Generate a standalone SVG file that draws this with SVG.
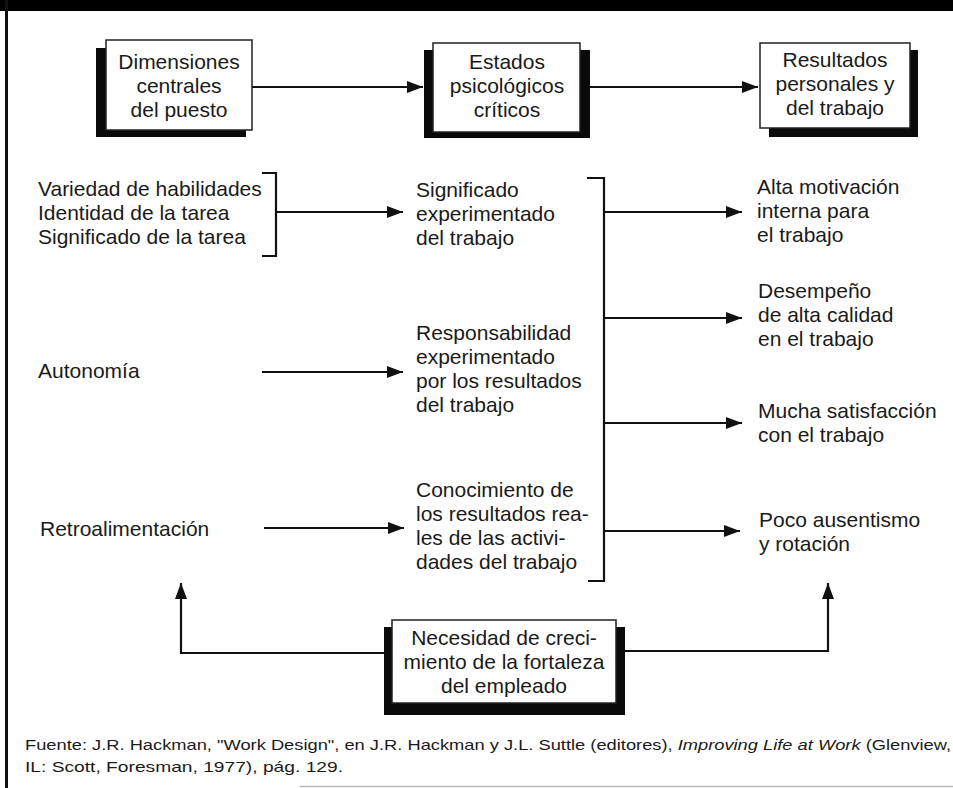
<svg xmlns="http://www.w3.org/2000/svg" width="953" height="788" viewBox="0 0 953 788">
<style>
text{font-family:"Liberation Sans",Arial,sans-serif;font-size:21px;fill:#1a1a1a}
.c{text-anchor:middle}
.box{fill:#fff;stroke:#222;stroke-width:1.5}
.sh{fill:#0a0a0a}
.ln{fill:none;stroke:#111;stroke-width:2.2}
.ft{font-size:15px}
</style>
<defs>
<marker id="ah" markerUnits="userSpaceOnUse" markerWidth="16" markerHeight="12" refX="16" refY="6" orient="auto">
<path d="M0,0 L16,6 L0,12 z" fill="#111"/>
</marker>
</defs>
<rect width="953" height="788" fill="#fff"/>
<rect x="0" y="0" width="953" height="11" fill="#000"/>
<rect x="5" y="0" width="3" height="788" fill="#111"/>
<line x1="300" y1="786.5" x2="953" y2="786.5" stroke="#bbb" stroke-width="1.5"/>

<g id="box-dimensiones">
<rect class="sh" x="96" y="48" width="150" height="89"/>
<rect class="box" x="106" y="40" width="146" height="90"/>
<text class="c" x="179" y="69">Dimensiones</text>
<text class="c" x="179" y="93">centrales</text>
<text class="c" x="179" y="117">del puesto</text>
</g>
<g id="box-estados">
<rect class="sh" x="424" y="50" width="166" height="88"/>
<rect class="box" x="433" y="43" width="147" height="89"/>
<text class="c" x="507" y="69">Estados</text>
<text class="c" x="507" y="93">psicológicos</text>
<text class="c" x="507" y="117">críticos</text>
</g>
<g id="box-resultados">
<rect class="sh" x="769" y="50" width="149" height="87"/>
<rect class="box" x="760" y="43" width="150" height="85"/>
<text class="c" x="835" y="67">Resultados</text>
<text class="c" x="835" y="91">personales y</text>
<text class="c" x="835" y="115">del trabajo</text>
</g>

<g id="dimensiones-list">
<text x="38" y="196">Variedad de habilidades</text>
<text x="38" y="220">Identidad de la tarea</text>
<text x="38" y="244">Significado de la tarea</text>
</g>
<g id="autonomia"><text x="38" y="378">Autonomía</text></g>
<g id="retro"><text x="40" y="536">Retroalimentación</text></g>

<g id="significado">
<text x="416" y="197">Significado</text>
<text x="416" y="221">experimentado</text>
<text x="416" y="245">del trabajo</text>
</g>
<g id="responsabilidad">
<text x="416" y="340">Responsabilidad</text>
<text x="416" y="364">experimentado</text>
<text x="416" y="388">por los resultados</text>
<text x="416" y="412">del trabajo</text>
</g>
<g id="conocimiento">
<text x="416" y="497">Conocimiento de</text>
<text x="416" y="521">los resultados rea-</text>
<text x="416" y="545">les de las activi-</text>
<text x="416" y="569">dades del trabajo</text>
</g>

<g id="motivacion">
<text x="757" y="194">Alta motivación</text>
<text x="757" y="218">interna para</text>
<text x="757" y="242">el trabajo</text>
</g>
<g id="desempeno">
<text x="758" y="298">Desempeño</text>
<text x="758" y="322">de alta calidad</text>
<text x="758" y="346">en el trabajo</text>
</g>
<g id="satisfaccion">
<text x="758" y="418">Mucha satisfacción</text>
<text x="758" y="442">con el trabajo</text>
</g>
<g id="ausentismo">
<text x="759" y="527">Poco ausentismo</text>
<text x="759" y="551">y rotación</text>
</g>

<g id="box-necesidad">
<rect class="sh" x="384" y="627" width="241" height="88"/>
<rect class="box" x="392" y="620" width="224" height="83"/>
<text class="c" x="504" y="645">Necesidad de creci-</text>
<text class="c" x="504" y="669">miento de la fortaleza</text>
<text class="c" x="504" y="693">del empleado</text>
</g>

<g id="connectors">
<line class="ln" x1="252" y1="87" x2="423" y2="87" marker-end="url(#ah)"/>
<line class="ln" x1="590" y1="87" x2="758" y2="87" marker-end="url(#ah)"/>
<path class="ln" d="M262,173 H276 V256 H262"/>
<line class="ln" x1="276" y1="212" x2="403" y2="212" marker-end="url(#ah)"/>
<line class="ln" x1="262" y1="372" x2="403" y2="372" marker-end="url(#ah)"/>
<line class="ln" x1="264" y1="528" x2="404" y2="528" marker-end="url(#ah)"/>
<path class="ln" d="M587,178 H604 V581 H588"/>
<line class="ln" x1="604" y1="212" x2="742" y2="212" marker-end="url(#ah)"/>
<line class="ln" x1="604" y1="318" x2="742" y2="318" marker-end="url(#ah)"/>
<line class="ln" x1="604" y1="423" x2="742" y2="423" marker-end="url(#ah)"/>
<line class="ln" x1="604" y1="531" x2="740" y2="531" marker-end="url(#ah)"/>
<path class="ln" d="M384,653 H181 V583" marker-end="url(#ah)"/>
<path class="ln" d="M625,651 H828 V583" marker-end="url(#ah)"/>
</g>

<g id="fuente">
<text class="ft" x="25" y="750" textLength="926" lengthAdjust="spacingAndGlyphs">Fuente: J.R. Hackman, "Work Design", en J.R. Hackman y J.L. Suttle (editores), <tspan font-style="italic">Improving Life at Work</tspan> (Glenview,</text>
<text class="ft" x="25" y="772" textLength="318" lengthAdjust="spacingAndGlyphs">IL: Scott, Foresman, 1977), pág. 129.</text>
</g>
</svg>
